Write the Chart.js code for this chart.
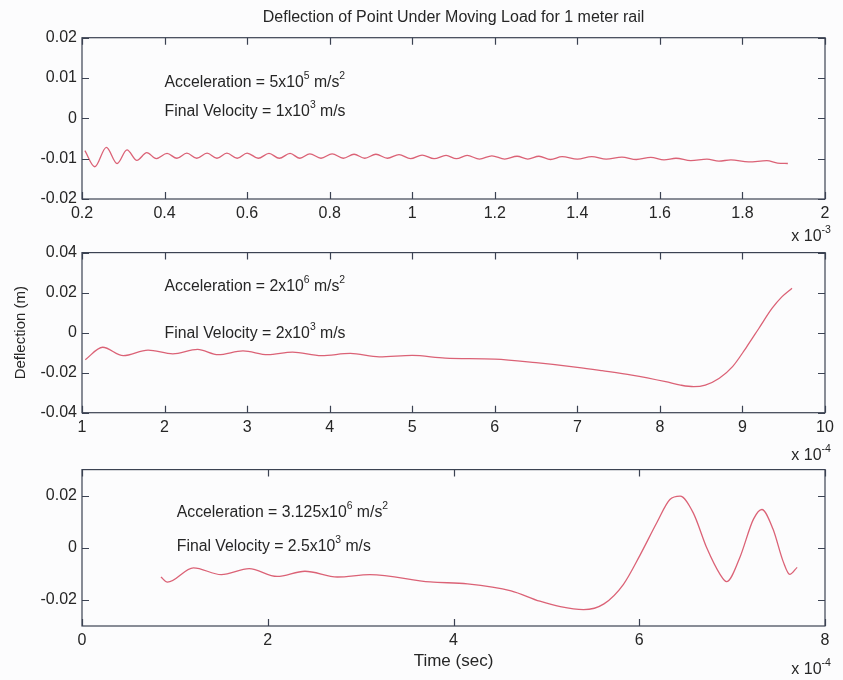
<!DOCTYPE html>
<html>
<head>
<meta charset="utf-8">
<script src="https://cdn.jsdelivr.net/npm/chart.js@4"></script>
<style>
  body { margin: 0; background: #fff; }
  #fig { position: relative; width: 843px; height: 680px; background: #fcfcfd; overflow: hidden; }
  #fig canvas { position: absolute; left: 0; }
</style>
</head>
<body>
<div id="fig">
  <canvas id="c1" width="843" height="245" style="top:0px"></canvas>
  <canvas id="c2" width="843" height="232" style="top:238px"></canvas>
  <canvas id="c3" width="843" height="225" style="top:455px"></canvas>
</div>
<script>
// time in units of the axis multiplier (x 10^-3 s for panel 1, x 10^-4 s for panels 2 and 3), deflection in m
const time1 = [0.207, 0.231, 0.259, 0.285, 0.309, 0.333, 0.357, 0.380, 0.406, 0.430,
  0.454, 0.478, 0.503, 0.527, 0.551, 0.576, 0.600, 0.627, 0.653, 0.678,
  0.704, 0.728, 0.752, 0.779, 0.806, 0.833, 0.859, 0.885, 0.912, 0.940,
  0.968, 0.996, 1.024, 1.053, 1.082, 1.107, 1.133, 1.163, 1.193, 1.224,
  1.254, 1.280, 1.307, 1.335, 1.363, 1.400, 1.435, 1.470, 1.508, 1.543,
  1.578, 1.610, 1.639, 1.675, 1.714, 1.743, 1.772, 1.815, 1.859, 1.885, 1.910];
const defl1 = [-0.0080, -0.0120, -0.0072, -0.0112, -0.0078, -0.0104, -0.0085, -0.0100, -0.0087, -0.0099,
  -0.0086, -0.0099, -0.0086, -0.0099, -0.0086, -0.0099, -0.0086, -0.0099, -0.0087, -0.0099,
  -0.0087, -0.0099, -0.0088, -0.0099, -0.0088, -0.0099, -0.0089, -0.0099, -0.0089, -0.0099,
  -0.0090, -0.0100, -0.0091, -0.0100, -0.0092, -0.0100, -0.0092, -0.0101, -0.0093, -0.0101,
  -0.0094, -0.0101, -0.0094, -0.0102, -0.0095, -0.0101, -0.0095, -0.0101, -0.0096, -0.0102,
  -0.0097, -0.0103, -0.0099, -0.0105, -0.0101, -0.0106, -0.0103, -0.0108, -0.0105, -0.0111, -0.0112];

const time2 = [1.04, 1.25, 1.50, 1.80, 2.10, 2.40, 2.65, 2.95, 3.25, 3.55,
  3.90, 4.25, 4.60, 5.00, 5.40, 6.00, 6.50, 7.00, 7.30, 7.66,
  8.07, 8.25, 8.41, 8.55, 8.72, 8.88, 9.04, 9.20, 9.36, 9.48, 9.60];
const defl2 = [-0.0135, -0.0073, -0.0115, -0.0087, -0.0106, -0.0084, -0.0110, -0.0091, -0.0110, -0.0097,
  -0.0115, -0.0104, -0.0121, -0.0114, -0.0127, -0.0132, -0.0150, -0.0173, -0.0190, -0.0212,
  -0.0245, -0.0262, -0.0270, -0.0262, -0.0228, -0.0170, -0.0078, 0.0022, 0.0122, 0.0180, 0.0222];

const time3 = [0.85, 0.92, 1.20, 1.50, 1.80, 2.10, 2.40, 2.75, 3.10, 3.75,
  4.15, 4.62, 4.93, 5.15, 5.40, 5.62, 5.83, 6.01, 6.19, 6.33,
  6.44, 6.58, 6.73, 6.87, 6.94, 7.08, 7.23, 7.32, 7.44, 7.55, 7.62, 7.70];
const defl3 = [-0.0112, -0.0132, -0.0077, -0.0103, -0.0080, -0.0110, -0.0090, -0.0112, -0.0103, -0.0131,
  -0.0138, -0.0165, -0.0205, -0.0226, -0.0237, -0.0215, -0.0140, -0.0027, 0.0097, 0.0185,
  0.0198, 0.0135, -0.0003, -0.0102, -0.0130, -0.0040, 0.0110, 0.0147, 0.0072, -0.0053, -0.0102, -0.0075];

const xTicks1 = [0.2, 0.4, 0.6, 0.8, 1, 1.2, 1.4, 1.6, 1.8, 2];
const yTicks1 = [-0.02, -0.01, 0, 0.01, 0.02];
const yRange1 = [-0.02, 0.02];
const xTicks2 = [1, 2, 3, 4, 5, 6, 7, 8, 9, 10];
const yTicks2 = [-0.04, -0.02, 0, 0.02, 0.04];
const yRange2 = [-0.04, 0.04];
const xTicks3 = [0, 2, 4, 6, 8];
const yTicks3 = [-0.02, 0, 0.02];
const yRange3 = [-0.03, 0.03];

const chartTitle = 'Deflection of Point Under Moving Load for 1 meter rail';
const notes1 = ['Acceleration = 5x10^5 m/s^2', 'Final Velocity = 1x10^3 m/s'];
const notes2 = ['Acceleration = 2x10^6 m/s^2', 'Final Velocity = 2x10^3 m/s'];
const notes3 = ['Acceleration = 3.125x10^6 m/s^2', 'Final Velocity = 2.5x10^3 m/s'];

const FONT = "'Liberation Sans', Arial, Helvetica, sans-serif";
const TEXT = '#262626';
const AXIS = '#3b4252';
const LINE = '#db6276';

// draws a string with ^superscripts (e.g. 10^-3) starting at x, centred on y
function drawSup(ctx, str, x, y, size) {
  const parts = str.split(/\^(-?\d+)/);
  let cx = x;
  parts.forEach((p, i) => {
    const sup = i % 2 === 1;
    const fs = sup ? size * 0.66 : size;
    ctx.font = `${fs}px ${FONT}`;
    ctx.fillText(p, cx, y + size * 0.36 - (sup ? size * 0.5 : 0));
    cx += ctx.measureText(p).width;
  });
  return cx - x;
}

// MATLAB-like box with inward ticks on all sides, text notes and axis multiplier
const boxTicks = {
  id: 'boxTicks',
  afterDatasetsDraw(chart, args, opts) {
    const { ctx, chartArea: a, scales: { x, y } } = chart;
    ctx.save();
    ctx.strokeStyle = AXIS;
    ctx.lineWidth = 1.2;
    ctx.strokeRect(a.left, a.top, a.width, a.height);
    ctx.beginPath();
    x.ticks.forEach(t => {
      const px = Math.round(x.getPixelForValue(t.value)) + 0.5;
      ctx.moveTo(px, a.bottom); ctx.lineTo(px, a.bottom - 7);
      ctx.moveTo(px, a.top); ctx.lineTo(px, a.top + 7);
    });
    y.ticks.forEach(t => {
      const py = Math.round(y.getPixelForValue(t.value)) + 0.5;
      ctx.moveTo(a.left, py); ctx.lineTo(a.left + 7, py);
      ctx.moveTo(a.right, py); ctx.lineTo(a.right - 7, py);
    });
    ctx.stroke();

    ctx.fillStyle = TEXT;
    ctx.textBaseline = 'alphabetic';
    ctx.textAlign = 'left';
    opts.notes.forEach(n => {
      drawSup(ctx, n.text, x.getPixelForValue(n.x), y.getPixelForValue(n.y), 15.8);
    });

    // axis multiplier, right aligned under the x axis
    ctx.font = `16px ${FONT}`;
    const w = ctx.measureText(opts.exponent.replace(/\^(-?\d+)/, '')).width;
    const w2 = ctx.measureText('-3').width * 0.66;
    drawSup(ctx, opts.exponent, a.right + 6 - w - w2, a.bottom + opts.expOffset, 16);
    ctx.restore();
  }
};

function fmt(v) {
  return String(+Number(v).toFixed(6));
}

function panel(id, cfg) {
  const points = cfg.time.map((t, i) => ({ x: t, y: cfg.defl[i] }));
  const tickFont = { family: FONT, size: 16 };
  return new Chart(document.getElementById(id), {
    type: 'line',
    data: {
      datasets: [{
        data: points,
        borderColor: LINE,
        borderWidth: 1.3,
        pointRadius: 0,
        fill: false,
        cubicInterpolationMode: 'monotone'
      }]
    },
    options: {
      responsive: false,
      animation: false,
      events: [],
      layout: { padding: { top: cfg.padTop, right: 18, left: 0, bottom: 0 } },
      plugins: {
        legend: { display: false },
        tooltip: { enabled: false },
        title: cfg.title ? {
          display: true,
          text: cfg.title,
          fullSize: false,
          color: TEXT,
          font: { family: FONT, size: 16, weight: 'normal' },
          padding: { top: 8, bottom: 10.5 }
        } : { display: false },
        boxTicks: { notes: cfg.notes, exponent: cfg.exponent, expOffset: cfg.expOffset }
      },
      scales: {
        x: {
          type: 'linear',
          min: cfg.xTicks[0],
          max: cfg.xTicks[cfg.xTicks.length - 1],
          afterBuildTicks: s => { s.ticks = cfg.xTicks.map(v => ({ value: v })); },
          afterFit: s => { s.height = cfg.xHeight; },
          grid: { display: false, drawTicks: false },
          border: { display: false },
          ticks: { font: tickFont, color: TEXT, padding: 5, maxRotation: 0, autoSkip: false, callback: fmt },
          title: cfg.xTitle ? {
            display: true, text: cfg.xTitle, color: TEXT,
            font: { family: FONT, size: 17 }, padding: { top: 0, bottom: 8 }
          } : { display: false }
        },
        y: {
          min: cfg.yRange[0],
          max: cfg.yRange[1],
          afterBuildTicks: s => { s.ticks = cfg.yTicks.map(v => ({ value: v })); },
          afterFit: s => { s.width = 82; },
          grid: { display: false, drawTicks: false },
          border: { display: false },
          ticks: { font: tickFont, color: TEXT, padding: 5, autoSkip: false, callback: fmt },
          title: cfg.yTitle ? {
            display: true, text: cfg.yTitle, color: TEXT,
            font: { family: FONT, size: 15 }, padding: { top: 12, bottom: 0 }
          } : { display: false }
        }
      }
    },
    plugins: [boxTicks]
  });
}

panel('c1', {
  time: time1, defl: defl1, xTicks: xTicks1, yTicks: yTicks1, yRange: yRange1,
  title: chartTitle, padTop: 0, xHeight: 46,
  notes: [{ x: 0.4, y: 0.0091, text: notes1[0] }, { x: 0.4, y: 0.0021, text: notes1[1] }],
  exponent: 'x 10^-3', expOffset: 36
});

panel('c2', {
  time: time2, defl: defl2, xTicks: xTicks2, yTicks: yTicks2, yRange: yRange2,
  padTop: 13.7, xHeight: 57.3, yTitle: 'Deflection (m)',
  notes: [{ x: 2, y: 0.0235, text: notes2[0] }, { x: 2, y: 0.0, text: notes2[1] }],
  exponent: 'x 10^-4', expOffset: 42
});

panel('c3', {
  time: time3, defl: defl3, xTicks: xTicks3, yTicks: yTicks3, yRange: yRange3,
  padTop: 11, xHeight: 54, xTitle: 'Time (sec)',
  notes: [{ x: 1.02, y: 0.0139, text: notes3[0] }, { x: 1.02, y: 0.001, text: notes3[1] }],
  exponent: 'x 10^-4', expOffset: 42
});
</script>
</body>
</html>
